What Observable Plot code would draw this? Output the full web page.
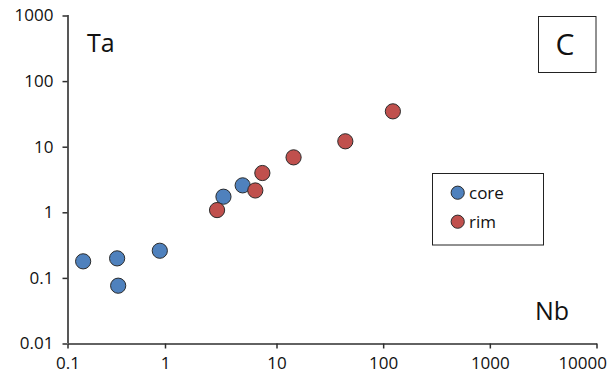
<!DOCTYPE html>
<html>
<head>
<meta charset="utf-8">
<script src="https://cdn.jsdelivr.net/npm/d3@7"></script>
<script src="https://cdn.jsdelivr.net/npm/@observablehq/plot@0.6"></script>
<style>
  html, body { margin: 0; padding: 0; background: #fff; }
  #chart svg { display: block; }
</style>
</head>
<body>
<div id="chart"></div>
<script>
// Nb vs Ta (log–log), zircon cores and rims
const coreNb = [0.143, 0.319, 0.327, 0.874, 3.31, 4.92];
const coreTa = [0.182, 0.202, 0.0774, 0.264, 1.76, 2.62];
const rimNb = [2.90, 6.39, 7.39, 14.3, 43.7, 122];
const rimTa = [1.10, 2.19, 4.04, 7.0, 12.3, 35.2];

const groups = ["core", "rim"];
const groupColors = ["#4F81BD", "#C0504D"];
const xTicks = [0.1, 1, 10, 100, 1000, 10000];
const yTicks = [0.01, 0.1, 1, 10, 100, 1000];
const xLabel = "Nb";
const yLabel = "Ta";
const panelLabel = "C";

const points = [
  ...coreNb.map((nb, i) => ({group: groups[0], nb, ta: coreTa[i]})),
  ...rimNb.map((nb, i) => ({group: groups[1], nb, ta: rimTa[i]}))
];

const font = "'Open Sans', 'DejaVu Sans', sans-serif";
const ink = "#2e2e2e";
const fmt = d => String(d);

// x axis: 0.1 … 10000 (slightly narrower first decade); y axis: 0.01 … 1000
const xDomain = [0.1, 1, 10, 10000];
const xRange = [67.5, 165, 276.5, 596.5];
const yDomain = [0.01, 1000];
const yRange = [343.5, 15.5];
// outward tick length (5px) expressed along each log scale
const xTickEnd = xDomain[0] * 10 ** (-5 / (xRange[1] - xRange[0]));
const yTickEnd = yDomain[0] * 10 ** (-5 * 5 / (yRange[0] - yRange[1]));

const chart = Plot.plot({
  width: 615,
  height: 380,
  marginLeft: 68,
  marginRight: 18,
  marginTop: 15,
  marginBottom: 37,
  style: {fontFamily: font, fontSize: "17px", color: "#111", background: "#fff"},
  x: {type: "log", domain: xDomain, range: xRange},
  y: {type: "log", domain: yDomain, range: yRange},
  color: {domain: groups, range: groupColors},
  marks: [
    Plot.axisY({ticks: yTicks, tickFormat: fmt, tickSize: 0, tickPadding: 15, fontSize: 17, label: null}),
    Plot.axisX({ticks: xTicks, tickFormat: d => (d === 10000 ? "" : fmt(d)), tickSize: 0, tickPadding: 13, fontSize: 17, label: null}),
    Plot.axisX({ticks: [10000], tickFormat: fmt, tickSize: 0, tickPadding: 13, textAnchor: "end", dx: 10, fontSize: 17, label: null}),
    // tick marks
    Plot.ruleY(yTicks, {y: d => d, x1: xTickEnd, x2: xDomain[0], stroke: ink, strokeWidth: 1.5}),
    Plot.ruleX(xTicks, {x: d => d, y1: yTickEnd, y2: yDomain[0], stroke: ink, strokeWidth: 1.5}),
    // axis lines
    Plot.ruleX([xDomain[0]], {stroke: ink, strokeWidth: 1.6}),
    Plot.ruleY([yDomain[0]], {stroke: ink, strokeWidth: 1.6}),
    Plot.dot(points, {x: "nb", y: "ta", fill: "group", r: 7.6, stroke: "#2b2b2b", strokeWidth: 1})
  ]
});

document.getElementById("chart").appendChild(chart);

// Annotations: element labels, panel letter and legend
const svg = d3.select(chart);
const g = svg.append("g").attr("font-family", font).attr("fill", "#111").attr("text-anchor", "start");

g.append("text").attr("x", 87).attr("y", 52).attr("font-size", 25).text(yLabel);
g.append("text").attr("x", 535).attr("y", 319.5).attr("font-size", 25).text(xLabel);

g.append("rect").attr("x", 538.5).attr("y", 16.5).attr("width", 57.5).attr("height", 56)
  .attr("fill", "none").attr("stroke", "#222").attr("stroke-width", 1);
g.append("text").attr("x", 565).attr("y", 55).attr("text-anchor", "middle").attr("font-size", 30).text(panelLabel);

const legend = g.append("g");
legend.append("rect").attr("x", 432.5).attr("y", 173.5).attr("width", 111).attr("height", 71.5)
  .attr("fill", "#fff").attr("stroke", "#222").attr("stroke-width", 1);
groups.forEach((name, i) => {
  const cy = 192.7 + i * 29;
  legend.append("circle").attr("cx", 457.7).attr("cy", cy).attr("r", 6.6)
    .attr("fill", groupColors[i]).attr("stroke", "#2b2b2b").attr("stroke-width", 1);
  legend.append("text").attr("x", 469).attr("y", cy + 6).attr("font-size", 17).text(name);
});
</script>
</body>
</html>
